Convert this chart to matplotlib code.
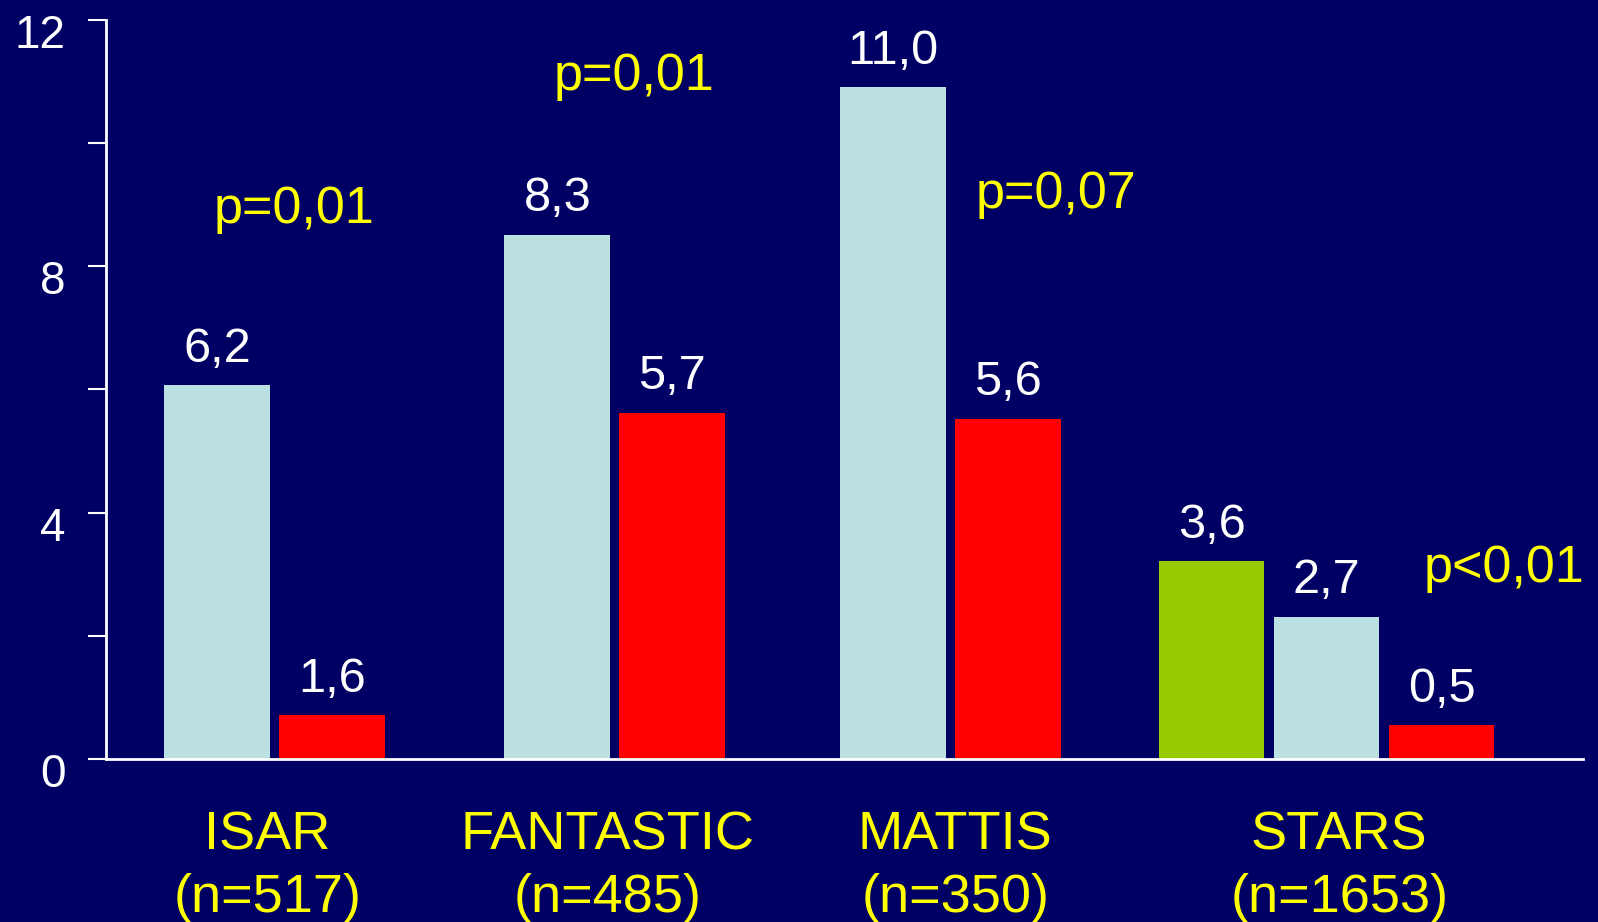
import matplotlib
matplotlib.use("Agg")
import matplotlib.pyplot as plt
from matplotlib.transforms import ScaledTranslation

plt.rcParams["font.family"] = ["Liberation Sans", "DejaVu Sans"]

BG = "#000064"
LIGHT = "#bae0e2"
RED = "#ff0000"
GREEN = "#99cc00"
YELLOW = "#ffff00"

groups = ["ISAR", "FANTASTIC", "MATTIS", "STARS"]
group_n = ["(n=517)", "(n=485)", "(n=350)", "(n=1653)"]

# bar heights as drawn in the source slide, and the printed labels
isar_vals = [6.07, 0.71]
fantastic_vals = [8.51, 5.62]
mattis_vals = [10.91, 5.52]
stars_vals = [3.21, 2.31, 0.55]

isar_labels = ["6,2", "1,6"]
fantastic_labels = ["8,3", "5,7"]
mattis_labels = ["11,0", "5,6"]
stars_labels = ["3,6", "2,7", "0,5"]

isar_colors = [LIGHT, RED]
fantastic_colors = [LIGHT, RED]
mattis_colors = [LIGHT, RED]
stars_colors = [GREEN, LIGHT, RED]

p_texts = ["p=0,01", "p=0,01", "p=0,07", "p<0,01"]
p_x = [0.67, 3.63, 7.30, 11.19]
p_y = [8.70, 10.86, 8.94, 2.87]

values = [isar_vals, fantastic_vals, mattis_vals, stars_vals]
labels = [isar_labels, fantastic_labels, mattis_labels, stars_labels]
colors = [isar_colors, fantastic_colors, mattis_colors, stars_colors]
group_start = [0.0, 2.96, 5.88, 8.65]
group_label_x = [0.44, 3.40, 6.42, 9.76]
bar_w = 0.92

fig = plt.figure(figsize=(15.98, 9.22), dpi=100, facecolor=BG)
ax = fig.add_axes([0.0663, 0.1768, 0.9243, 0.8015])
ax.set_facecolor(BG)

for g, start in enumerate(group_start):
    xs = [start + j for j in range(len(values[g]))]
    ax.bar(xs, values[g], width=bar_w, color=colors[g], linewidth=0, zorder=2)
    for x, v, lab in zip(xs, values[g], labels[g]):
        ax.annotate(lab, (x, v), xytext=(0, 17), textcoords="offset points",
                    ha="center", va="baseline", color="white", fontsize=35)
    cx = group_label_x[g]
    ax.annotate(groups[g], (cx, 0), xytext=(0, -65), textcoords="offset points",
                ha="center", va="baseline", color=YELLOW, fontsize=39,
                annotation_clip=False)
    ax.annotate(group_n[g], (cx, 0), xytext=(0, -110), textcoords="offset points",
                ha="center", va="baseline", color=YELLOW, fontsize=39,
                annotation_clip=False)

for txt, x, y in zip(p_texts, p_x, p_y):
    ax.text(x, y, txt, ha="center", va="baseline", color=YELLOW, fontsize=37.5,
            clip_on=False)

ax.set_xlim(-0.965, 11.88)
ax.set_ylim(0, 12)
ax.set_yticks([0, 4, 8, 12])
ax.set_yticks([2, 6, 10], minor=True)
ax.set_xticks([])
ax.tick_params(axis="y", which="both", direction="out", length=13, width=1.5,
               color="white", labelcolor="white", labelsize=33, pad=16)
for lab in ax.get_yticklabels():
    lab.set_transform(lab.get_transform() + ScaledTranslation(0, -8 / 72, fig.dpi_scale_trans))

for side in ("top", "right"):
    ax.spines[side].set_visible(False)
for side in ("left", "bottom"):
    ax.spines[side].set_color("white")
    ax.spines[side].set_linewidth(2)
ax.spines["bottom"].set_zorder(3)

fig.savefig("out.png", dpi=100, facecolor=BG)
